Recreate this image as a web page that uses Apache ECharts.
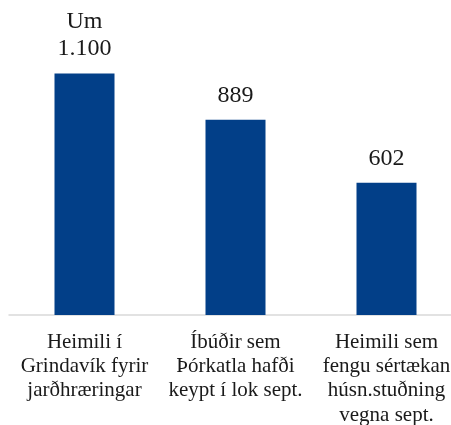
<!DOCTYPE html>
<html lang="is" style="height: 100%;width: 100%">
<head>
    <meta charset="utf-8">
</head>
<body style="height: 100%;width: 100%; margin: 0">
<div id="container" style="height: 100%;width: 100%;"></div>
<script type="text/javascript" src="https://cdn.jsdelivr.net/npm/echarts@6/dist/echarts.min.js"></script>
<script type="text/javascript">
    var categories = [
        'Heimili í\nGrindavík fyrir\njarðhræringar',
        'Íbúðir sem\nÞórkatla hafði\nkeypt í lok sept.',
        'Heimili sem\nfengu sértækan\nhúsn.stuðning\nvegna sept.'
    ];
    var values = [1100, 889, 602];
    var valueLabels = ['Um\n1.100', '889', '602'];

    var serifFont = '"Liberation Serif", "Times New Roman", "DejaVu Serif", serif';

    var myChart = echarts.init(document.getElementById('container'), null, {renderer: 'canvas'});

    var option = {
        animation: false,
        grid: {
            left: 9,
            top: 51.6,
            width: 453,
            height: 263.4,
            outerBoundsMode: 'none',
            containLabel: false
        },
        xAxis: {
            type: 'category',
            data: categories,
            axisLine: {
                show: true,
                lineStyle: {color: '#d9d9d9', width: 1.5}
            },
            axisTick: {show: false},
            axisLabel: {
                interval: 0,
                margin: 15,
                color: '#1a1a1a',
                fontFamily: serifFont,
                fontSize: 21,
                lineHeight: 24.3
            }
        },
        yAxis: {
            type: 'value',
            min: 0,
            max: 1200,
            show: false,
            splitLine: {show: false}
        },
        series: [
            {
                type: 'bar',
                data: values,
                barWidth: 60,
                itemStyle: {color: '#023f88'},
                label: {
                    show: true,
                    position: 'top',
                    distance: 11,
                    color: '#1a1a1a',
                    fontFamily: serifFont,
                    fontSize: 24,
                    lineHeight: 27,
                    formatter: function (p) {
                        return valueLabels[p.dataIndex];
                    }
                }
            }
        ]
    };
    myChart.setOption(option);
</script>
</body>
</html>
